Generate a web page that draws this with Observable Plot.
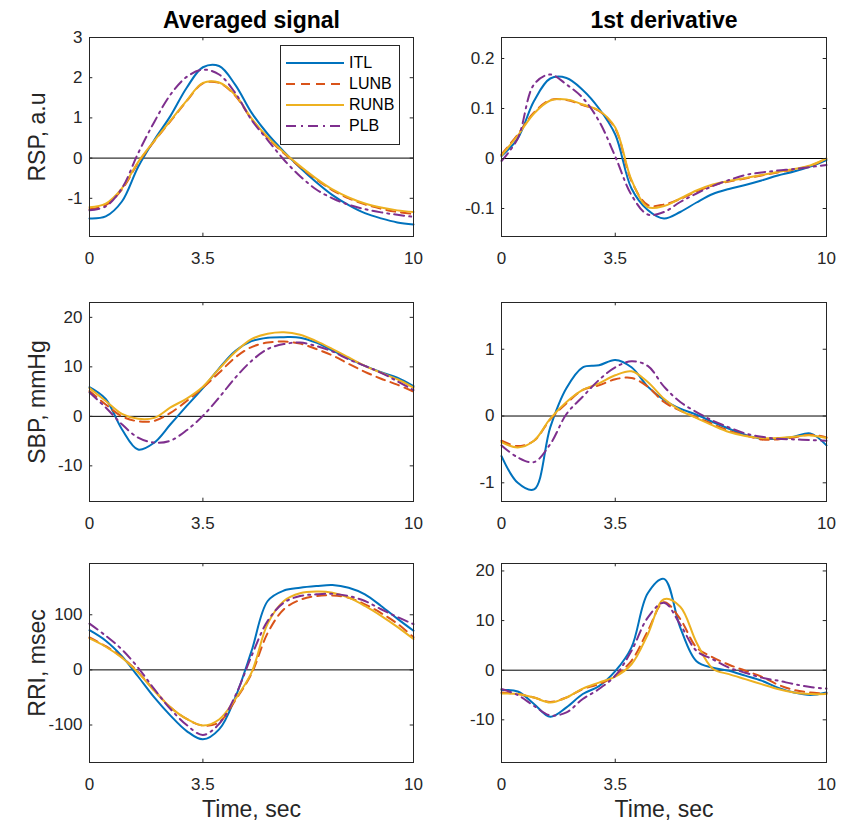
<!DOCTYPE html>
<html><head><meta charset="utf-8">
<script src="https://cdn.jsdelivr.net/npm/d3@7"></script>
<script src="https://cdn.jsdelivr.net/npm/@observablehq/plot@0.6"></script>
<style>
body{margin:0;background:#fff;}
#fig{position:relative;width:846px;height:822px;overflow:hidden;font-family:"Liberation Sans",Arial,sans-serif;}
#fig svg.panel{position:absolute;}
.legend{position:absolute;left:280px;top:45px;width:118px;height:92px;border:1px solid #262626;background:#fff;padding-top:6px;box-sizing:content-box;}
.legend .row{display:flex;align-items:center;height:21px;font-size:16px;color:#000;}
.legend .row span{margin-left:5px;}
</style></head><body><div id="fig"></div>
<script>
// time grid (sec)
const t = [0,0.5,1,1.5,2,2.5,3,3.5,4,4.5,5,5.5,6,6.5,7,7.5,8,8.5,9,9.5,10];
const xTicks = [0,3.5,10];
const seriesNames = ["ITL","LUNB","RUNB","PLB"];
const seriesColors = ["#0072BD","#D95319","#EDB120","#7E2F8E"];
const seriesDash = [null,"9,6",null,"10,5,2,5"];

// RSP averaged signal
const rspITL  = [-1.50,-1.45,-1.08,-0.22,0.45,1.05,1.75,2.26,2.29,1.82,1.13,0.60,0.16,-0.24,-0.60,-0.92,-1.17,-1.37,-1.50,-1.60,-1.65];
const rspLUNB = [-1.27,-1.17,-0.78,-0.12,0.42,0.92,1.42,1.86,1.87,1.55,0.97,0.50,0.12,-0.22,-0.53,-0.80,-1.00,-1.15,-1.26,-1.34,-1.39];
const rspRUNB = [-1.22,-1.13,-0.75,-0.10,0.43,0.93,1.43,1.87,1.88,1.57,0.99,0.52,0.14,-0.20,-0.51,-0.78,-0.98,-1.13,-1.23,-1.30,-1.34];
const rspPLB  = [-1.30,-1.20,-0.75,0.12,0.90,1.58,2.02,2.20,2.08,1.62,0.95,0.45,-0.04,-0.45,-0.78,-1.00,-1.16,-1.27,-1.35,-1.41,-1.46];
// RSP 1st derivative
const drspITL  = [0.005,0.040,0.115,0.160,0.161,0.137,0.100,0.048,-0.060,-0.103,-0.120,-0.107,-0.088,-0.071,-0.061,-0.053,-0.044,-0.034,-0.026,-0.016,-0.003];
const drspLUNB = [0.008,0.048,0.092,0.117,0.117,0.107,0.095,0.060,-0.045,-0.093,-0.092,-0.081,-0.066,-0.054,-0.046,-0.040,-0.034,-0.028,-0.022,-0.015,0.000];
const drspRUNB = [0.006,0.046,0.090,0.116,0.118,0.108,0.096,0.062,-0.043,-0.097,-0.095,-0.080,-0.064,-0.052,-0.045,-0.039,-0.033,-0.027,-0.021,-0.014,0.000];
const drspPLB  = [-0.005,0.040,0.148,0.168,0.148,0.121,0.075,0.004,-0.073,-0.112,-0.107,-0.087,-0.070,-0.055,-0.043,-0.033,-0.028,-0.024,-0.021,-0.017,-0.013];
// SBP averaged signal
const sbpITL  = [5.9,3.5,-2.6,-6.7,-5.3,-1.6,2.1,5.7,9.7,13.2,15.2,15.9,16.0,15.9,14.9,13.3,11.7,10.2,8.9,7.8,6.1];
const sbpLUNB = [5.1,2.4,0.0,-1.0,-0.9,0.7,3.1,5.8,8.8,11.9,14.0,14.9,15.1,14.7,13.6,12.3,10.6,9.0,7.6,6.4,5.0];
const sbpRUNB = [5.7,3.1,0.5,-0.5,-0.3,1.8,3.6,6.0,9.6,13.0,15.6,16.7,17.0,16.5,15.2,13.6,11.9,10.2,8.8,7.5,5.8];
const sbpPLB  = [4.8,1.8,-1.6,-4.3,-5.3,-4.9,-2.8,0.1,3.8,7.8,11.2,13.6,14.6,14.9,14.2,13.1,11.5,10.2,8.8,7.1,5.3];
// SBP 1st derivative
const dsbpITL  = [-0.60,-1.00,-1.10,-0.17,0.42,0.73,0.76,0.84,0.73,0.44,0.24,0.11,0.02,-0.09,-0.19,-0.28,-0.34,-0.34,-0.31,-0.26,-0.44];
const dsbpLUNB = [-0.37,-0.45,-0.37,-0.05,0.19,0.39,0.46,0.55,0.57,0.44,0.21,0.08,-0.02,-0.12,-0.22,-0.29,-0.35,-0.35,-0.32,-0.28,-0.32];
const dsbpRUNB = [-0.39,-0.47,-0.37,-0.04,0.21,0.39,0.49,0.61,0.67,0.51,0.26,0.085,-0.03,-0.14,-0.24,-0.30,-0.33,-0.33,-0.31,-0.29,-0.33];
const dsbpPLB  = [-0.44,-0.62,-0.69,-0.42,0.03,0.29,0.54,0.73,0.82,0.75,0.44,0.21,0.06,-0.07,-0.17,-0.26,-0.31,-0.34,-0.35,-0.36,-0.37];
// RRI averaged signal
const rriITL  = [72,53,25,-12,-50,-83,-111,-126,-108,-50,34,125,144,149,152,154,149,137,116,93,71];
const rriLUNB = [59,43,23,-4,-37,-68,-89,-101,-95,-55,-7,67,110,127,134,135,131,119,103,84,59];
const rriRUNB = [57,42,22,-5,-38,-68,-89,-101,-90,-53,-5,84,125,139,142,140,131,116,98,78,56];
const rriPLB  = [84,62,37,4,-35,-71,-100,-118,-98,-47,25,89,122,134,137,138,134,125,110,96,83];
// RRI 1st derivative
const drriITL  = [-4.0,-4.3,-6.8,-9.4,-7.5,-4.8,-3.2,-0.2,4.6,15.5,18.4,8.6,1.8,0.5,-0.1,-1.1,-2.1,-3.5,-4.5,-5.0,-4.5];
const drriLUNB = [-4.5,-4.8,-5.5,-6.4,-5.5,-3.8,-2.8,-1.1,1.9,7.9,13.7,10.3,4.6,2.6,1.1,-0.1,-1.3,-2.9,-4.0,-4.5,-4.7];
const drriRUNB = [-4.7,-4.8,-5.5,-6.5,-5.5,-3.7,-2.5,-1.3,1.2,7.2,14.3,12.8,5.6,0.3,-0.8,-1.8,-2.8,-3.8,-4.5,-4.8,-4.8];
const drriPLB  = [-3.8,-5.0,-7.2,-9.1,-8.5,-5.8,-3.8,-1.1,3.9,10.6,13.6,9.2,3.9,2.2,0.5,-0.5,-1.5,-2.1,-2.8,-3.4,-3.7];

const panels = [
  {row:0,col:0,series:[rspITL,rspLUNB,rspRUNB,rspPLB],domain:[-1.95,3],ticks:[-1,0,1,2,3],ylabel:"RSP, a.u",title:"Averaged signal"},
  {row:0,col:1,series:[drspITL,drspLUNB,drspRUNB,drspPLB],domain:[-0.156,0.242],ticks:[-0.1,0,0.1,0.2],title:"1st derivative"},
  {row:1,col:0,series:[sbpITL,sbpLUNB,sbpRUNB,sbpPLB],domain:[-17.2,23],ticks:[-10,0,10,20],ylabel:"SBP, mmHg"},
  {row:1,col:1,series:[dsbpITL,dsbpLUNB,dsbpRUNB,dsbpPLB],domain:[-1.28,1.70],ticks:[-1,0,1]},
  {row:2,col:0,series:[rriITL,rriLUNB,rriRUNB,rriPLB],domain:[-168,193],ticks:[-100,0,100],ylabel:"RRI, msec",xlabel:"Time, sec"},
  {row:2,col:1,series:[drriITL,drriLUNB,drriRUNB,drriPLB],domain:[-18.6,21.5],ticks:[-10,0,10,20],xlabel:"Time, sec"}
];

const colX = [89, 500.5], colW = [324, 325];
const rowY = [36.5, 302, 563], panelH = 199;
const mTop = 36, mBottom = 60, mRight = 20;
const mLeft = [89, 80];
const fig = document.getElementById("fig");
const axisColor = "#262626";
const fmt = d => String(d);

for (const p of panels) {
  const [y0, y1] = p.domain;
  const tickY = 3.3 / panelH * (y1 - y0);
  const tickX = 3.3 / colW[p.col] * 10;
  const marks = [
    Plot.ruleY([0], {stroke: "black", strokeWidth: 1}),
    ...p.series.map((vals, i) => Plot.line(t.map((tt, j) => ({t: tt, v: vals[j]})), {
      x: "t", y: "v", stroke: seriesColors[i], strokeWidth: 2,
      strokeDasharray: seriesDash[i] || undefined, curve: "catmull-rom"
    })),
    Plot.frame({stroke: axisColor, strokeWidth: 1}),
    Plot.ruleX(xTicks, {x: d => d, y1: y0, y2: y0 + tickY, stroke: axisColor}),
    Plot.ruleX(xTicks, {x: d => d, y1: y1, y2: y1 - tickY, stroke: axisColor}),
    Plot.ruleY(p.ticks, {y: d => d, x1: 0, x2: tickX, stroke: axisColor}),
    Plot.ruleY(p.ticks, {y: d => d, x1: 10, x2: 10 - tickX, stroke: axisColor}),
    Plot.axisX({ticks: xTicks, tickSize: 0, tickPadding: 15, tickFormat: fmt, fontSize: 17, color: axisColor, label: null}),
    Plot.axisY({ticks: p.ticks, tickSize: 0, tickPadding: 7, tickFormat: fmt, fontSize: 17, color: axisColor, label: null})
  ];
  if (p.ylabel) marks.push(Plot.text([p.ylabel], {text: d => d, frameAnchor: "left", textAnchor: "middle", rotate: -90, dx: -52, fontSize: 23, fill: axisColor}));
  if (p.title) marks.push(Plot.text([p.title], {text: d => d, frameAnchor: "top", textAnchor: "middle", dy: -9.5, lineAnchor: "bottom", fontSize: 23, fontWeight: "bold", fill: "black"}));
  if (p.xlabel) marks.push(Plot.text([p.xlabel], {text: d => d, frameAnchor: "bottom", textAnchor: "middle", dy: 54, lineAnchor: "bottom", fontSize: 23, fill: axisColor}));

  const ml = mLeft[p.col];
  const svg = Plot.plot({
    width: ml + colW[p.col] + mRight,
    height: mTop + panelH + mBottom,
    marginLeft: ml, marginRight: mRight, marginTop: mTop, marginBottom: mBottom,
    x: {domain: [0, 10]},
    y: {domain: p.domain},
    style: {background: "transparent", fontFamily: "'Liberation Sans', Arial, sans-serif", overflow: "visible"},
    marks
  });
  svg.classList.add("panel");
  svg.style.position = "absolute";
  svg.style.left = (colX[p.col] - ml) + "px";
  svg.style.top = (rowY[p.row] - mTop) + "px";
  fig.appendChild(svg);
}

// legend
const legend = d3.select(fig).append("div").attr("class", "legend");
seriesNames.forEach((name, i) => {
  const row = legend.append("div").attr("class", "row");
  const s = row.append("svg").attr("width", 63).attr("height", 10);
  s.append("line").attr("x1", 5).attr("x2", 63).attr("y1", 5).attr("y2", 5)
    .attr("stroke", seriesColors[i]).attr("stroke-width", 2)
    .attr("stroke-dasharray", seriesDash[i]);
  row.append("span").text(name);
});
</script>
</body></html>
